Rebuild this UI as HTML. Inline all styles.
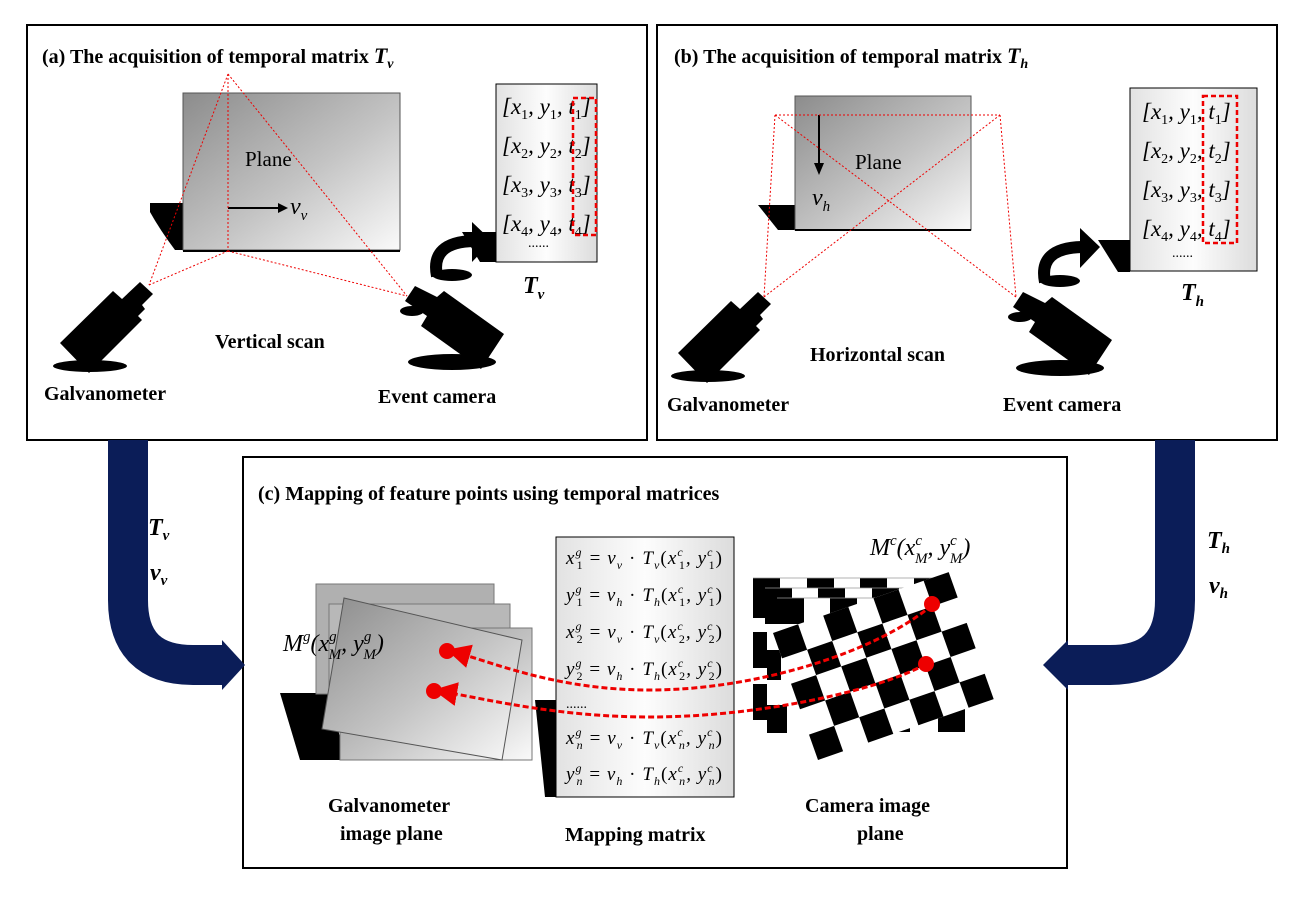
<!DOCTYPE html>
<html><head><meta charset="utf-8"><style>
html,body{margin:0;padding:0;background:#fff}
svg{display:block}
text{font-family:"Liberation Serif",serif}
.b{font-weight:bold}
.i{font-style:italic}
</style></head><body>
<svg width="1303" height="897" viewBox="0 0 1303 897" xmlns="http://www.w3.org/2000/svg">
<defs>
<linearGradient id="pg" x1="0" y1="0" x2="1" y2="1">
<stop offset="0" stop-color="#8c8c8c"/><stop offset="0.55" stop-color="#c4c4c4"/><stop offset="1" stop-color="#fafafa"/>
</linearGradient>
<linearGradient id="mg" x1="0" y1="0" x2="1" y2="0">
<stop offset="0" stop-color="#e2e2e2"/><stop offset="0.5" stop-color="#fdfdfd"/><stop offset="1" stop-color="#dcdcdc"/>
</linearGradient>
<g id="galv">
<ellipse cx="90" cy="366" rx="37" ry="6" fill="#000"/>
<polygon points="60,343 113,291 122,299 140,282 153,294 142,305 145,309 138,316 142,320 89,373" fill="#000"/>
</g>
<g id="cam">
<polygon points="1013,307 1023,292 1045,303 1052,297 1112,340 1089,375 1029,332 1035,322" fill="#000"/>
<ellipse cx="1060" cy="368" rx="44" ry="8" fill="#000"/>
<ellipse cx="1020" cy="317" rx="12" ry="5" fill="#000"/>
<path d="M1045,282 Q1038,248 1082,247" stroke="#000" stroke-width="12" fill="none"/>
<polygon points="1080,228 1100,247 1080,268" fill="#000"/>
<ellipse cx="1060" cy="281" rx="20" ry="6" fill="#000"/>
</g>
<marker id="ah" markerWidth="8" markerHeight="8" refX="4" refY="4" orient="auto"><path d="M0,0 L8,4 L0,8z" fill="#e00"/></marker>
</defs>

<rect x="27" y="25" width="620" height="415" fill="none" stroke="#000" stroke-width="2"/>
<rect x="657" y="25" width="620" height="415" fill="none" stroke="#000" stroke-width="2"/>
<rect x="243" y="457" width="824" height="411" fill="none" stroke="#000" stroke-width="2"/>

<path d="M128,440 V600 Q128,665 193,665 H224" stroke="#0b1d58" stroke-width="40" fill="none"/>
<polygon points="222,640 245,665 222,690" fill="#0b1d58"/>
<path d="M1175,440 V600 Q1175,665 1110,665 H1066" stroke="#0b1d58" stroke-width="40" fill="none"/>
<polygon points="1068,640 1043,665 1068,690" fill="#0b1d58"/>
<text x="148" y="535" font-size="24" class="b i">T<tspan font-size="15" dy="5">v</tspan></text>
<text x="150" y="580" font-size="24" class="b i">v<tspan font-size="15" dy="5">v</tspan></text>
<text x="1207" y="548" font-size="24" class="b i">T<tspan font-size="15" dy="5">h</tspan></text>
<text x="1209" y="593" font-size="24" class="b i">v<tspan font-size="15" dy="5">h</tspan></text>

<!-- Panel a -->
<text x="42" y="63" font-size="20" class="b">(a) The acquisition of temporal matrix <tspan class="i" font-size="22">T</tspan><tspan class="i" font-size="14" dy="5">v</tspan></text>
<path d="M150,203 L183,203 L183,250 L175,250 Q160,230 150,212 Z" fill="#000"/>
<rect x="183" y="93" width="217" height="157" fill="url(#pg)" stroke="#555"/>
<line x1="183" y1="251" x2="400" y2="251" stroke="#000" stroke-width="2"/>
<text x="245" y="166" font-size="21">Plane</text>
<line x1="228" y1="208" x2="278" y2="208" stroke="#000" stroke-width="2"/>
<polygon points="278,203 288,208 278,213" fill="#000"/>
<text x="290" y="214" font-size="24" class="i">v<tspan font-size="15" dy="6">v</tspan></text>
<g stroke="#e00" stroke-width="1" stroke-dasharray="2,2" fill="none">
<line x1="228" y1="74" x2="228" y2="251"/>
<line x1="228" y1="74" x2="149" y2="285"/>
<line x1="228" y1="74" x2="407" y2="296"/>
<line x1="228" y1="251" x2="149" y2="285"/>
<line x1="228" y1="251" x2="407" y2="296"/>
</g>
<use href="#galv"/>
<use href="#cam" transform="translate(-608,-6)"/>
<text x="215" y="348" font-size="20" class="b">Vertical scan</text>
<text x="44" y="400" font-size="20" class="b">Galvanometer</text>
<text x="378" y="403" font-size="20" class="b">Event camera</text>
<polygon points="462,232 496,232 496,262 480,262" fill="#000"/>
<rect x="496" y="84" width="101" height="178" fill="url(#mg)" stroke="#000"/>
<g font-size="23" class="i">
<text x="502" y="114">[x<tspan font-size="14" dy="5" font-style="normal">1</tspan><tspan dy="-5">, y</tspan><tspan font-size="14" dy="5" font-style="normal">1</tspan><tspan dy="-5">, t</tspan><tspan font-size="14" dy="5" font-style="normal">1</tspan><tspan dy="-5">]</tspan></text>
<text x="502" y="153">[x<tspan font-size="14" dy="5" font-style="normal">2</tspan><tspan dy="-5">, y</tspan><tspan font-size="14" dy="5" font-style="normal">2</tspan><tspan dy="-5">, t</tspan><tspan font-size="14" dy="5" font-style="normal">2</tspan><tspan dy="-5">]</tspan></text>
<text x="502" y="192">[x<tspan font-size="14" dy="5" font-style="normal">3</tspan><tspan dy="-5">, y</tspan><tspan font-size="14" dy="5" font-style="normal">3</tspan><tspan dy="-5">, t</tspan><tspan font-size="14" dy="5" font-style="normal">3</tspan><tspan dy="-5">]</tspan></text>
<text x="502" y="231">[x<tspan font-size="14" dy="5" font-style="normal">4</tspan><tspan dy="-5">, y</tspan><tspan font-size="14" dy="5" font-style="normal">4</tspan><tspan dy="-5">, t</tspan><tspan font-size="14" dy="5" font-style="normal">4</tspan><tspan dy="-5">]</tspan></text>
</g>
<text x="528" y="247" font-size="14">......</text>
<rect x="573" y="98" width="23" height="137" fill="none" stroke="#e00" stroke-width="2.5" stroke-dasharray="5,3"/>
<text x="523" y="293" font-size="24" class="b i">T<tspan font-size="15" dy="6">v</tspan></text>

<!-- Panel b -->
<text x="674" y="63" font-size="20" class="b">(b) The acquisition of temporal matrix <tspan class="i" font-size="22">T</tspan><tspan class="i" font-size="14" dy="5">h</tspan></text>
<path d="M758,205 L795,205 L795,230 L778,230 Z" fill="#000"/>
<rect x="795" y="96" width="176" height="134" fill="url(#pg)" stroke="#555"/>
<line x1="795" y1="230" x2="971" y2="230" stroke="#000" stroke-width="2"/>
<text x="855" y="169" font-size="21">Plane</text>
<line x1="819" y1="115" x2="819" y2="165" stroke="#000" stroke-width="2"/>
<polygon points="814,163 819,175 824,163" fill="#000"/>
<text x="812" y="205" font-size="24" class="i">v<tspan font-size="15" dy="6">h</tspan></text>
<g stroke="#e00" stroke-width="1" stroke-dasharray="2,2" fill="none">
<line x1="775" y1="115" x2="1000" y2="115"/>
<line x1="775" y1="115" x2="764" y2="297"/>
<line x1="1000" y1="115" x2="1016" y2="297"/>
<line x1="775" y1="115" x2="1016" y2="297"/>
<line x1="1000" y1="115" x2="764" y2="297"/>
</g>
<use href="#galv" transform="translate(618,10)"/>
<use href="#cam"/>
<text x="810" y="361" font-size="20" class="b">Horizontal scan</text>
<text x="667" y="411" font-size="20" class="b">Galvanometer</text>
<text x="1003" y="411" font-size="20" class="b">Event camera</text>
<polygon points="1098,240 1130,240 1130,272 1118,272" fill="#000"/>
<rect x="1130" y="88" width="127" height="183" fill="url(#mg)" stroke="#000"/>
<g font-size="23" class="i">
<text x="1142" y="119">[x<tspan font-size="14" dy="5" font-style="normal">1</tspan><tspan dy="-5">, y</tspan><tspan font-size="14" dy="5" font-style="normal">1</tspan><tspan dy="-5">, t</tspan><tspan font-size="14" dy="5" font-style="normal">1</tspan><tspan dy="-5">]</tspan></text>
<text x="1142" y="158">[x<tspan font-size="14" dy="5" font-style="normal">2</tspan><tspan dy="-5">, y</tspan><tspan font-size="14" dy="5" font-style="normal">2</tspan><tspan dy="-5">, t</tspan><tspan font-size="14" dy="5" font-style="normal">2</tspan><tspan dy="-5">]</tspan></text>
<text x="1142" y="197">[x<tspan font-size="14" dy="5" font-style="normal">3</tspan><tspan dy="-5">, y</tspan><tspan font-size="14" dy="5" font-style="normal">3</tspan><tspan dy="-5">, t</tspan><tspan font-size="14" dy="5" font-style="normal">3</tspan><tspan dy="-5">]</tspan></text>
<text x="1142" y="236">[x<tspan font-size="14" dy="5" font-style="normal">4</tspan><tspan dy="-5">, y</tspan><tspan font-size="14" dy="5" font-style="normal">4</tspan><tspan dy="-5">, t</tspan><tspan font-size="14" dy="5" font-style="normal">4</tspan><tspan dy="-5">]</tspan></text>
</g>
<text x="1172" y="257" font-size="14">......</text>
<rect x="1203" y="96" width="34" height="147" fill="none" stroke="#e00" stroke-width="2.5" stroke-dasharray="5,3"/>
<text x="1181" y="300" font-size="24" class="b i">T<tspan font-size="15" dy="6">h</tspan></text>

<!-- Panel c -->
<text x="258" y="500" font-size="20" class="b">(c) Mapping of feature points using temporal matrices</text>
<polygon points="280,693 330,693 345,760 300,760" fill="#000"/>
<rect x="316" y="584" width="178" height="110" fill="#b0b0b0" stroke="#777"/>
<rect x="329" y="604" width="181" height="110" fill="#b8b8b8" stroke="#777"/>
<rect x="340" y="628" width="192" height="132" fill="url(#pg)" stroke="#777"/>
<polygon points="344,598 522,640 502,760 322,729" fill="url(#pg)" stroke="#555"/>
<text x="283" y="651" font-size="24" class="i">M<tspan font-size="15" dy="-10">g</tspan><tspan dy="10">(x</tspan><tspan font-size="15" dy="-10">g</tspan><tspan font-size="15" dx="-8" dy="18">M</tspan><tspan dy="-8">, y</tspan><tspan font-size="15" dy="-10">g</tspan><tspan font-size="15" dx="-8" dy="18">M</tspan><tspan dy="-8">)</tspan></text>

<polygon points="535,700 556,700 556,797 545,797" fill="#000"/>
<rect x="556" y="537" width="178" height="260" fill="url(#mg)" stroke="#000"/>
<g font-size="19" class="i">
<text x="566" y="564" textLength="156" lengthAdjust="spacing">x<tspan font-size="12" dy="-8">g</tspan><tspan font-size="12" dx="-6" dy="13" font-style="normal">1</tspan><tspan dy="-5" font-style="normal"> = </tspan>v<tspan font-size="12" dy="5">v</tspan><tspan dy="-5" font-style="normal"> · </tspan>T<tspan font-size="12" dy="5">v</tspan><tspan dy="-5" font-style="normal">(</tspan>x<tspan font-size="12" dy="-8">c</tspan><tspan font-size="12" dx="-5" dy="13" font-style="normal">1</tspan><tspan dy="-5">, y</tspan><tspan font-size="12" dy="-8">c</tspan><tspan font-size="12" dx="-5" dy="13" font-style="normal">1</tspan><tspan dy="-5" font-style="normal">)</tspan></text>
<text x="566" y="601" textLength="156" lengthAdjust="spacing">y<tspan font-size="12" dy="-8">g</tspan><tspan font-size="12" dx="-6" dy="13" font-style="normal">1</tspan><tspan dy="-5" font-style="normal"> = </tspan>v<tspan font-size="12" dy="5">h</tspan><tspan dy="-5" font-style="normal"> · </tspan>T<tspan font-size="12" dy="5">h</tspan><tspan dy="-5" font-style="normal">(</tspan>x<tspan font-size="12" dy="-8">c</tspan><tspan font-size="12" dx="-5" dy="13" font-style="normal">1</tspan><tspan dy="-5">, y</tspan><tspan font-size="12" dy="-8">c</tspan><tspan font-size="12" dx="-5" dy="13" font-style="normal">1</tspan><tspan dy="-5" font-style="normal">)</tspan></text>
<text x="566" y="638" textLength="156" lengthAdjust="spacing">x<tspan font-size="12" dy="-8">g</tspan><tspan font-size="12" dx="-6" dy="13" font-style="normal">2</tspan><tspan dy="-5" font-style="normal"> = </tspan>v<tspan font-size="12" dy="5">v</tspan><tspan dy="-5" font-style="normal"> · </tspan>T<tspan font-size="12" dy="5">v</tspan><tspan dy="-5" font-style="normal">(</tspan>x<tspan font-size="12" dy="-8">c</tspan><tspan font-size="12" dx="-5" dy="13" font-style="normal">2</tspan><tspan dy="-5">, y</tspan><tspan font-size="12" dy="-8">c</tspan><tspan font-size="12" dx="-5" dy="13" font-style="normal">2</tspan><tspan dy="-5" font-style="normal">)</tspan></text>
<text x="566" y="675" textLength="156" lengthAdjust="spacing">y<tspan font-size="12" dy="-8">g</tspan><tspan font-size="12" dx="-6" dy="13" font-style="normal">2</tspan><tspan dy="-5" font-style="normal"> = </tspan>v<tspan font-size="12" dy="5">h</tspan><tspan dy="-5" font-style="normal"> · </tspan>T<tspan font-size="12" dy="5">h</tspan><tspan dy="-5" font-style="normal">(</tspan>x<tspan font-size="12" dy="-8">c</tspan><tspan font-size="12" dx="-5" dy="13" font-style="normal">2</tspan><tspan dy="-5">, y</tspan><tspan font-size="12" dy="-8">c</tspan><tspan font-size="12" dx="-5" dy="13" font-style="normal">2</tspan><tspan dy="-5" font-style="normal">)</tspan></text>
<text x="566" y="744" textLength="156" lengthAdjust="spacing">x<tspan font-size="12" dy="-8">g</tspan><tspan font-size="12" dx="-6" dy="13">n</tspan><tspan dy="-5" font-style="normal"> = </tspan>v<tspan font-size="12" dy="5">v</tspan><tspan dy="-5" font-style="normal"> · </tspan>T<tspan font-size="12" dy="5">v</tspan><tspan dy="-5" font-style="normal">(</tspan>x<tspan font-size="12" dy="-8">c</tspan><tspan font-size="12" dx="-5" dy="13">n</tspan><tspan dy="-5">, y</tspan><tspan font-size="12" dy="-8">c</tspan><tspan font-size="12" dx="-5" dy="13">n</tspan><tspan dy="-5" font-style="normal">)</tspan></text>
<text x="566" y="780" textLength="156" lengthAdjust="spacing">y<tspan font-size="12" dy="-8">g</tspan><tspan font-size="12" dx="-6" dy="13">n</tspan><tspan dy="-5" font-style="normal"> = </tspan>v<tspan font-size="12" dy="5">h</tspan><tspan dy="-5" font-style="normal"> · </tspan>T<tspan font-size="12" dy="5">h</tspan><tspan dy="-5" font-style="normal">(</tspan>x<tspan font-size="12" dy="-8">c</tspan><tspan font-size="12" dx="-5" dy="13">n</tspan><tspan dy="-5">, y</tspan><tspan font-size="12" dy="-8">c</tspan><tspan font-size="12" dx="-5" dy="13">n</tspan><tspan dy="-5" font-style="normal">)</tspan></text>
</g>
<text x="566" y="708" font-size="14">......</text>

<!-- checkerboard: back boards -->
<g fill="#000">
<rect x="753" y="578" width="27" height="10"/><rect x="807" y="578" width="27" height="10"/><rect x="860" y="578" width="27" height="10"/><rect x="914" y="578" width="27" height="10"/>
<rect x="765" y="588" width="27" height="10"/><rect x="818" y="588" width="27" height="10"/><rect x="872" y="588" width="27" height="10"/>
<rect x="753" y="588" width="12" height="30"/><rect x="765" y="598" width="15" height="26"/><rect x="777" y="598" width="27" height="26"/><rect x="830" y="598" width="27" height="18"/>
<rect x="753" y="632" width="14" height="36"/><rect x="767" y="650" width="14" height="30"/><rect x="753" y="684" width="14" height="36"/><rect x="767" y="705" width="20" height="28"/>
<rect x="938" y="700" width="27" height="32"/><rect x="898" y="720" width="12" height="12"/>
</g>
<g fill="none" stroke="#999" stroke-width="0.8"><line x1="753" y1="578" x2="941" y2="578"/><line x1="765" y1="588" x2="930" y2="588"/><line x1="777" y1="598" x2="900" y2="598"/></g>
<!-- main board -->
<g transform="matrix(25.1,-8.7,9,25.4,773,633)">
<rect x="0" y="0" width="7" height="5" fill="#fff"/>
<g fill="#000">
<rect x="0" y="0" width="1" height="1"/><rect x="2" y="0" width="1" height="1"/><rect x="4" y="0" width="1" height="1"/><rect x="6" y="0" width="1" height="1"/>
<rect x="1" y="1" width="1" height="1"/><rect x="3" y="1" width="1" height="1"/><rect x="5" y="1" width="1" height="1"/>
<rect x="0" y="2" width="1" height="1"/><rect x="2" y="2" width="1" height="1"/><rect x="4" y="2" width="1" height="1"/><rect x="6" y="2" width="1" height="1"/>
<rect x="1" y="3" width="1" height="1"/><rect x="3" y="3" width="1" height="1"/><rect x="5" y="3" width="1" height="1"/>
<rect x="0" y="4" width="1" height="1"/><rect x="2" y="4" width="1" height="1"/><rect x="4" y="4" width="1" height="1"/><rect x="6" y="4" width="1" height="1"/>
</g>
</g>
<text x="870" y="555" font-size="24" class="i">M<tspan font-size="15" dy="-10">c</tspan><tspan dy="10">(x</tspan><tspan font-size="15" dy="-10">c</tspan><tspan font-size="15" dx="-7" dy="18">M</tspan><tspan dy="-8">, y</tspan><tspan font-size="15" dy="-10">c</tspan><tspan font-size="15" dx="-7" dy="18">M</tspan><tspan dy="-8">)</tspan></text>

<g stroke="#e00" stroke-width="3" stroke-dasharray="6,3" fill="none">
<path d="M932,605 C880,650 760,690 650,690 C560,690 500,665 458,653" marker-end="url(#ah)"/>
<path d="M926,664 C880,690 760,717 650,717 C560,717 490,700 445,692" marker-end="url(#ah)"/>
</g>
<circle cx="447" cy="651" r="8" fill="#e00"/>
<circle cx="434" cy="691" r="8" fill="#e00"/>
<circle cx="932" cy="604" r="8" fill="#e00"/>
<circle cx="926" cy="664" r="8" fill="#e00"/>

<text x="328" y="812" font-size="20" class="b">Galvanometer</text>
<text x="340" y="840" font-size="20" class="b">image plane</text>
<text x="565" y="841" font-size="20" class="b">Mapping matrix</text>
<text x="805" y="812" font-size="20" class="b">Camera image</text>
<text x="857" y="840" font-size="20" class="b">plane</text>
</svg>
</body></html>
